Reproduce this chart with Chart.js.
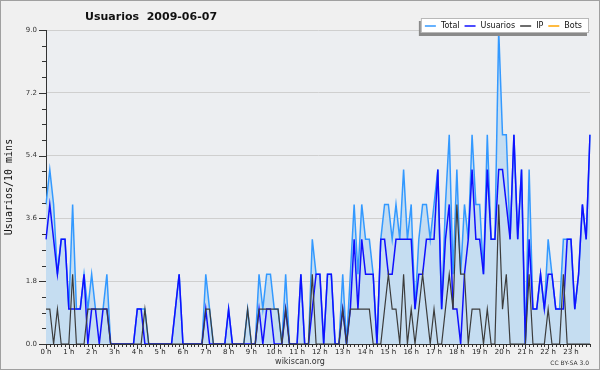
<!DOCTYPE html>
<html lang="es">
<head>
<meta charset="UTF-8">
<title>Usuarios 2009-06-07</title>
<script src="https://cdn.jsdelivr.net/npm/chart.js"></script>
<style>
  body { margin: 0; background: #f0f0f0; }
  canvas { display: block; }
</style>
</head>
<body>
<canvas id="myChart" width="600" height="370"></canvas>
<script>
// one value every 10 minutes, 0:00 .. 23:50
const slots = [];
for (let h = 0; h < 24; h++) {
    for (let m = 0; m < 60; m += 10) slots.push(h + ':' + String(m).padStart(2, '0'));
}
const hourLabels = ['0 h','1 h','2 h','3 h','4 h','5 h','6 h','7 h','8 h','9 h','10 h','11 h',
                    '12 h','13 h','14 h','15 h','16 h','17 h','18 h','19 h','20 h','21 h','22 h','23 h'];
const yTicks = [0, 1.8, 3.6, 5.4, 7.2, 9.0];
const yMinorStep = 0.45;

const total = [
    4,5,4,2,3,3,1,4,1,1,  2,1,2,1,1,1,2,0,0,0,  0,0,0,0,1,1,1,0,0,0,
    0,0,0,0,1,2,0,0,0,0,  0,0,2,1,0,0,0,0,1,0,  0,0,0,1,0,0,2,1,2,2,
    1,1,0,2,0,0,0,2,0,0,  3,2,2,0,2,2,0,0,2,0,  2,4,2,4,3,3,2,0,3,4,
    4,3,4,3,5,3,4,1,3,4,  4,3,4,5,1,4,6,2,5,2,  4,3,6,4,4,2,6,3,3,9,
    6,6,3,6,3,5,0,5,1,1,  2,1,3,2,1,1,3,3,3,1,  2,4,3,6
];
const usuarios = [
    3,4,3,2,3,3,1,1,1,1,  2,0,1,1,0,1,1,0,0,0,  0,0,0,0,1,1,0,0,0,0,
    0,0,0,0,1,2,0,0,0,0,  0,0,1,0,0,0,0,0,1,0,  0,0,0,0,0,0,1,0,1,1,
    0,0,0,1,0,0,0,2,0,0,  1,2,2,0,2,2,0,0,1,0,  1,3,1,3,2,2,2,0,3,3,
    2,2,3,3,3,3,3,1,2,2,  3,3,3,5,1,3,4,1,1,0,  2,3,5,3,3,2,5,3,3,5,
    5,4,3,6,3,5,0,3,1,1,  2,1,2,2,1,1,1,3,3,1,  2,4,3,6
];
const ip = [
    1,1,0,1,0,0,0,2,0,0,  0,1,1,1,1,1,1,0,0,0,  0,0,0,0,0,0,1,0,0,0,
    0,0,0,0,0,0,0,0,0,0,  0,0,1,1,0,0,0,0,0,0,  0,0,0,1,0,0,1,1,1,1,
    1,1,0,1,0,0,0,0,0,0,  2,0,0,0,0,0,0,0,1,0,  1,1,1,1,1,1,0,0,0,1,
    2,1,1,0,2,0,1,0,1,2,  1,0,1,0,0,1,2,1,4,2,  2,0,1,1,1,0,1,0,0,4,
    1,2,0,0,0,0,0,2,0,0,  0,0,1,0,0,0,2,0,0,0,  0,0,0,0
];
const bots = [];

const decor = {
    id: 'decor',
    beforeDraw(chart) {
        const {ctx, chartArea: a, width, height} = chart;
        ctx.save();
        ctx.fillStyle = '#f0f0f0';
        ctx.fillRect(0, 0, width, height);
        ctx.strokeStyle = '#a0a0a0';
        ctx.lineWidth = 1;
        ctx.strokeRect(0.5, 0.5, width - 1, height - 1);
        ctx.fillStyle = '#eceef1';
        ctx.fillRect(a.left, a.top, a.right - a.left, a.bottom - a.top);
        ctx.restore();
    },
    afterDraw(chart) {
        const {ctx, chartArea: a, scales: {x, y}} = chart;
        ctx.save();

        // tick marks
        ctx.strokeStyle = '#333';
        ctx.lineWidth = 1;
        ctx.beginPath();
        for (let i = 0; i < slots.length; i++) {
            const px = Math.round(x.getPixelForValue(i)) + 0.5;
            const len = i % 6 === 0 ? 5 : 3;
            ctx.moveTo(px, a.bottom);
            ctx.lineTo(px, a.bottom + len);
        }
        for (let k = 0; k * yMinorStep <= y.max + 1e-9; k++) {
            const py = Math.round(y.getPixelForValue(k * yMinorStep)) + 0.5;
            const len = k % 4 === 0 ? 7 : 4;
            ctx.moveTo(a.left - len, py);
            ctx.lineTo(a.left, py);
        }
        ctx.stroke();

        // title
        ctx.fillStyle = '#111';
        ctx.textBaseline = 'middle';
        ctx.textAlign = 'left';
        ctx.font = 'bold 11px "DejaVu Sans"';
        ctx.fillText('Usuarios  2009-06-07', 85, 17);

        // legend
        ctx.font = '8px "DejaVu Sans"';
        const items = chart.data.datasets.map(d => ({label: d.label, color: d.borderColor, w: ctx.measureText(d.label).width}));
        const lineLen = 11, gapIn = 5, gapOut = 5;
        let boxW = 6;
        items.forEach(it => { boxW += lineLen + gapIn + it.w + gapOut; });
        const boxR = 589, boxT = 18, boxH = 15;
        const boxL = boxR - boxW;
        ctx.fillStyle = '#8a8a8a';
        ctx.fillRect(boxL - 2, boxT + 3, boxW, boxH);
        ctx.fillStyle = '#ffffff';
        ctx.fillRect(boxL, boxT, boxW, boxH);
        ctx.strokeStyle = '#b8b8b8';
        ctx.strokeRect(boxL + 0.5, boxT + 0.5, boxW - 1, boxH - 1);
        let cx = boxL + 4;
        const cy = boxT + boxH / 2 + 0.5;
        items.forEach(it => {
            ctx.strokeStyle = it.color;
            ctx.lineWidth = 1.5;
            ctx.beginPath();
            ctx.moveTo(cx, cy);
            ctx.lineTo(cx + lineLen, cy);
            ctx.stroke();
            cx += lineLen + gapIn;
            ctx.fillStyle = '#111';
            ctx.fillText(it.label, cx, cy);
            cx += it.w + gapOut;
        });

        // footer
        ctx.fillStyle = '#333';
        ctx.textAlign = 'center';
        ctx.font = '8px "DejaVu Sans"';
        ctx.fillText('wikiscan.org', 300, 362);
        ctx.textAlign = 'right';
        ctx.font = '6px "DejaVu Sans"';
        ctx.fillText('CC BY-SA 3.0', 589, 363);
        ctx.restore();
    }
};

const ctx = document.getElementById('myChart').getContext('2d');
const myChart = new Chart(ctx, {
    type: 'line',
    data: {
        labels: slots,
        datasets: [
            { label: 'Total', data: total, borderColor: '#3399ff', backgroundColor: '#c5ddf1',
              fill: 'origin', borderWidth: 1.5, pointRadius: 0, tension: 0, order: 3 },
            { label: 'Usuarios', data: usuarios, borderColor: '#1010ff',
              fill: false, borderWidth: 1.5, pointRadius: 0, tension: 0, order: 2 },
            { label: 'IP', data: ip, borderColor: '#3c3c3c',
              fill: false, borderWidth: 1.2, pointRadius: 0, tension: 0, order: 1 },
            { label: 'Bots', data: bots, borderColor: '#ffa500',
              fill: false, borderWidth: 1.5, pointRadius: 0, tension: 0, order: 0 }
        ]
    },
    options: {
        responsive: false,
        animation: false,
        devicePixelRatio: 1,
        layout: { padding: { top: 30, right: 10, bottom: 0, left: 0 } },
        plugins: {
            legend: { display: false },
            title: { display: false },
            tooltip: { enabled: false }
        },
        scales: {
            x: {
                type: 'category',
                offset: false,
                grid: { display: false, drawTicks: false },
                border: { display: true, color: '#333', width: 1 },
                ticks: {
                    autoSkip: false, maxRotation: 0, minRotation: 0, padding: 4,
                    font: { family: 'DejaVu Sans', size: 7 }, color: '#222',
                    callback: (v, i) => i % 6 === 0 ? hourLabels[i / 6] : ''
                },
                afterFit: s => { s.height = 26; }
            },
            y: {
                min: 0,
                max: 9,
                afterBuildTicks: s => { s.ticks = yTicks.map(v => ({value: v})); },
                grid: { color: '#cfcfcf', drawTicks: false },
                border: { display: true, color: '#333', width: 1 },
                ticks: {
                    padding: 9,
                    font: { family: 'DejaVu Sans', size: 7 }, color: '#333',
                    callback: v => v.toFixed(1)
                },
                title: {
                    display: true, text: 'Usuarios/10 mins', color: '#111',
                    font: { family: 'DejaVu Sans Mono', size: 10 },
                    padding: { top: 3, bottom: 0 }
                },
                afterFit: s => { s.width = 46; }
            }
        }
    },
    plugins: [decor]
});
</script>
</body>
</html>
